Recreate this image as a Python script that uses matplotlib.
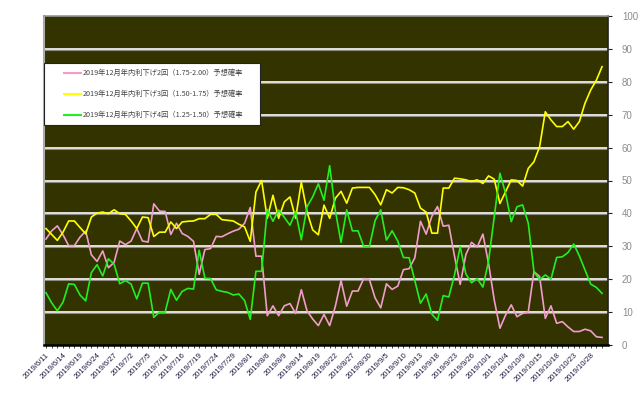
import matplotlib
matplotlib.use("Agg")
from matplotlib import pyplot as plt
from matplotlib.patches import Rectangle
import matplotlib.transforms as mtransforms

plt.rcParams['font.family'] = ['Noto Sans CJK JP', 'DejaVu Sans']

# tick labels (every 3rd trading day)
dates = ["2019/6/11", "2019/6/14", "2019/6/19", "2019/6/24", "2019/6/27", "2019/7/2",
         "2019/7/5", "2019/7/11", "2019/7/16", "2019/7/19", "2019/7/24", "2019/7/29",
         "2019/8/1", "2019/8/6", "2019/8/9", "2019/8/14", "2019/8/19", "2019/8/22",
         "2019/8/27", "2019/8/30", "2019/9/5", "2019/9/10", "2019/9/13", "2019/9/18",
         "2019/9/23", "2019/9/26", "2019/10/1", "2019/10/4", "2019/10/9", "2019/10/15",
         "2019/10/18", "2019/10/23", "2019/10/28"]

names = ["2019年12月年内利下げ2回（1.75-2.00）予想確率",
         "2019年12月年内利下げ3回（1.50-1.75）予想確率",
         "2019年12月年内利下げ4回（1.25-1.50）予想確率"]

cut2 = [32.2, 34.7, 36.2, 33.5, 30.2, 30.2, 32.8, 34.6, 27.4, 25.4,
        28.6, 23.5, 25.1, 31.6, 30.5, 31.6, 35.4, 31.6, 31.3, 42.9,
        40.7, 40.6, 33.6, 37.0, 33.9, 33.0, 31.5, 21.5, 29.0, 29.3,
        33.0, 32.9, 33.8, 34.6, 35.2, 37.0, 41.8, 27.0, 27.0, 8.9,
        11.9, 8.9, 11.9, 12.6, 9.6, 16.8, 10.4, 7.9, 5.9, 9.3,
        5.9, 11.8, 19.6, 11.8, 16.4, 16.4, 20.2, 19.9, 14.3, 11.3,
        18.6, 16.9, 17.9, 22.9, 23.2, 26.5, 37.6, 33.7, 39.1, 42.1,
        36.1, 36.4, 27.0, 18.4, 27.5, 31.2, 29.8, 33.7, 24.8, 13.7,
        5.1, 9.1, 12.2, 8.6, 9.6, 10.1, 22.3, 20.8, 8.1, 11.9,
        6.6, 7.1, 5.5, 4.1, 4.1, 4.8, 4.3, 2.5, 2.3]

cut3 = [35.4, 33.6, 31.8, 34.3, 37.7, 37.7, 35.7, 33.8, 38.9, 40.1,
        40.4, 39.9, 41.1, 39.9, 39.7, 37.7, 35.4, 38.9, 38.7, 33.0,
        34.3, 34.3, 37.4, 35.4, 37.4, 37.6, 37.7, 38.4, 38.4, 39.7,
        39.7, 38.1, 37.9, 37.7, 36.7, 35.9, 31.5, 46.5, 50.0, 38.5,
        45.5, 38.5, 43.5, 45.0, 38.5, 49.5, 40.5, 35.0, 33.5, 42.5,
        38.5, 44.6, 46.7, 43.1, 47.7, 47.9, 47.9, 47.9, 45.7, 42.6,
        47.2, 46.2, 47.9, 47.8, 47.2, 46.2, 41.6, 40.4, 34.0, 34.0,
        47.7, 47.7, 50.7, 50.5, 50.2, 49.7, 50.2, 49.1, 51.4, 50.4,
        43.0, 46.6, 50.2, 50.0, 48.3, 53.7, 55.7, 60.3, 70.9, 68.4,
        66.4, 66.4, 67.9, 65.6, 67.9, 73.5, 77.5, 80.5, 84.6]

cut4 = [15.9, 12.8, 10.4, 13.0, 18.6, 18.4, 15.2, 13.4, 22.0, 24.4,
        21.0, 26.2, 24.6, 18.6, 19.6, 18.5, 14.0, 18.8, 18.8, 8.4,
        10.0, 10.0, 16.9, 13.6, 16.3, 17.2, 17.0, 28.8, 20.3, 20.2,
        16.8, 16.3, 16.0, 15.2, 15.5, 13.5, 7.8, 22.4, 22.4, 41.2,
        37.6, 41.0, 38.8, 36.4, 40.5, 32.0, 42.0, 45.0, 49.0, 44.0,
        54.5, 40.8, 31.2, 41.1, 34.7, 34.7, 29.9, 29.9, 37.8, 41.1,
        31.9, 34.7, 31.6, 26.6, 26.5, 19.6, 12.7, 15.5, 9.4, 7.5,
        15.0, 14.6, 21.3, 29.9, 21.6, 18.9, 20.2, 17.6, 25.5, 39.0,
        52.2, 46.1, 37.5, 42.0, 42.6, 37.0, 22.3, 19.8, 21.3, 20.0,
        26.6, 26.8, 28.1, 30.7, 27.1, 22.8, 18.5, 17.5, 15.7]

colors = ['#f09ccc', '#ffff00', '#22ee22']

x = list(range(len(cut2)))

fig = plt.figure(figsize=(6.4, 3.97), dpi=100)
ax = fig.add_axes([44 / 640, 52 / 397, 564 / 640, 329 / 397])
ax.set_facecolor('#333300')

# grid lines with a grey shadow underneath
shadow = mtransforms.offset_copy(ax.transData, fig=fig, x=0, y=-1, units='dots')
for v in range(10, 100, 10):
    ax.plot([-1, 100], [v, v], color='#8a8a80', lw=0.8, transform=shadow, zorder=1)
    ax.axhline(v, color='white', lw=1.2, zorder=1.5)

for vals, c in zip([cut2, cut3, cut4], colors):
    ax.plot(x, vals, color=c, lw=1.2, zorder=3)

ax.set_xlim(-0.35, 99.05)
ax.set_ylim(0, 100)

ax.set_xticks(x[::3])
ax.set_xticklabels(dates, rotation=45, ha='right', rotation_mode='anchor',
                   fontsize=5.5, color='#1c1c44', family=['Liberation Sans', 'DejaVu Sans'])
ax.set_xticks(x, minor=True)
ax.tick_params(axis='x', which='both', length=2, width=0.6, color='#222222', pad=3)

ax.yaxis.tick_right()
ax.set_yticks(range(0, 101, 10))
ax.tick_params(axis='y', length=3, width=0.8, color='#222222', pad=7,
               labelsize=7, labelcolor='#8c8c8c')
for t in ax.get_yticklabels():
    t.set_family(['Liberation Sans', 'DejaVu Sans'])

ax.spines['left'].set_color('#aaaaaa')
ax.spines['left'].set_linewidth(1.5)
ax.spines['top'].set_color('#999999')
ax.spines['top'].set_linewidth(1.2)
ax.spines['bottom'].set_color('black')
ax.spines['bottom'].set_linewidth(1.8)
ax.spines['right'].set_color('#222222')
ax.spines['right'].set_linewidth(1.2)

# legend box
ax.add_patch(Rectangle((0, 0.668), 0.383, 0.19, transform=ax.transAxes,
                       facecolor='white', edgecolor='#222222', lw=0.8, zorder=5))
for k, (name, c) in enumerate(zip(names, colors)):
    yy = 0.827 - k * 0.064
    ax.plot([0.034, 0.067], [yy, yy], color=c, lw=1.5, transform=ax.transAxes,
            zorder=6, solid_capstyle='butt')
    ax.text(0.069, yy, name, transform=ax.transAxes, fontsize=5.2, color='#444444',
            va='center', ha='left', zorder=6)

fig.savefig('out.png', dpi=100)
